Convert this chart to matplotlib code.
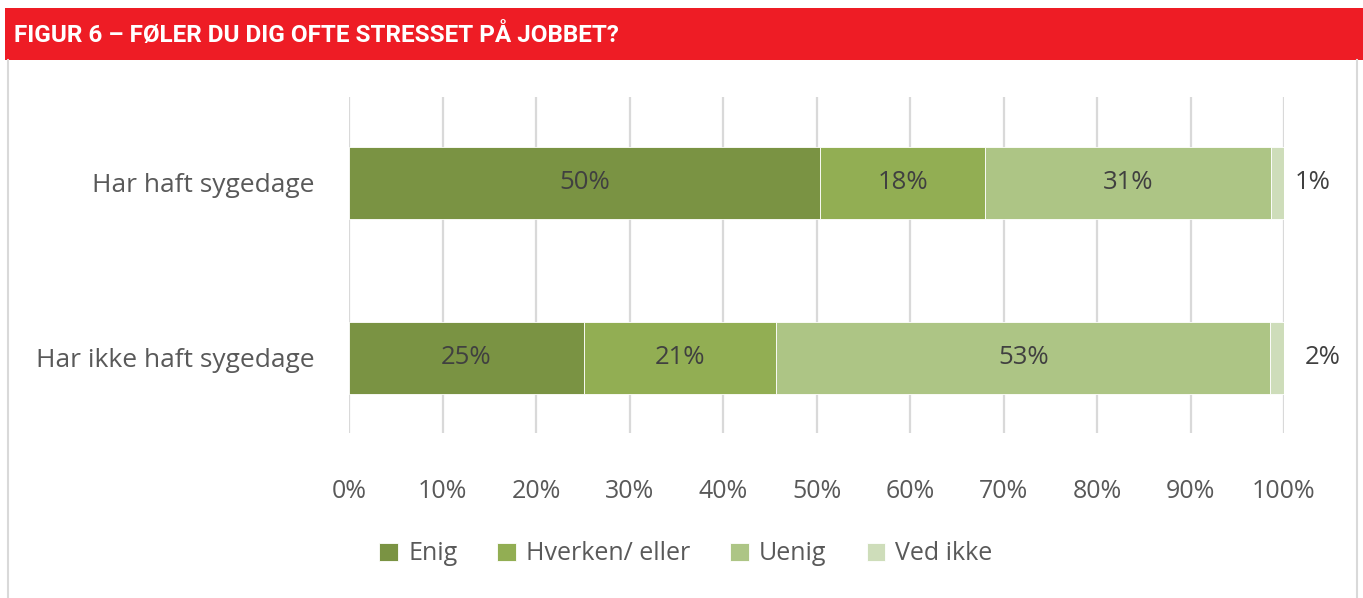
import matplotlib
matplotlib.use('Agg')
import matplotlib.pyplot as plt
from matplotlib.patches import Rectangle
from matplotlib.lines import Line2D

# --- data ---
groups = ['Har haft sygedage', 'Har ikke haft sygedage']
answers = ['Enig', 'Hverken/ eller', 'Uenig', 'Ved ikke']
enig = [50.4, 25.1]
hverken = [17.6, 20.6]
uenig = [30.6, 52.8]
ved_ikke = [1.4, 1.5]
ticks = [0, 10, 20, 30, 40, 50, 60, 70, 80, 90, 100]

colors = ['#7A9343', '#92AE53', '#ADC585', '#CEDDBA']
text_col = '#404040'
label_col = '#595959'
grid_col = '#D9D9D9'

plt.rcParams['font.family'] = ['Open Sans', 'DejaVu Sans']
fs = 18

fig = plt.figure(figsize=(13.63, 5.98), dpi=100)

# red title banner + grey frame
fig.patches.append(Rectangle((5 / 1363, 1 - 60 / 598), 1, 52 / 598, transform=fig.transFigure,
                             facecolor='#EE1C25', edgecolor='none', zorder=0))
fig.lines.append(Line2D([8 / 1363, 8 / 1363], [0, 1 - 60 / 598], transform=fig.transFigure,
                        color=grid_col, lw=1.5))
fig.lines.append(Line2D([1357 / 1363, 1357 / 1363], [0, 1 - 60 / 598], transform=fig.transFigure,
                        color=grid_col, lw=1.5))
fig.text(14 / 1363, 1 - 35 / 598, 'FIGUR 6 – FØLER DU DIG OFTE STRESSET PÅ JOBBET?',
         color='white', fontsize=17.5, fontweight='bold',
         family=['Roboto', 'DejaVu Sans'], va='center', ha='left')

ax = fig.add_axes([349 / 1363, 1 - 433 / 598, (1284 - 349) / 1363, (433 - 97) / 598])

series = [enig, hverken, uenig, ved_ikke]
ypos = list(range(len(groups)))
left = [0] * len(groups)
for i, (vals, name) in enumerate(zip(series, answers)):
    bars = ax.barh(ypos, vals, left=left, height=0.41, color=colors[i],
                   edgecolor='white', linewidth=0.6, label=name, zorder=2)
    for j, (b, v) in enumerate(zip(bars, vals)):
        if name == 'Ved ikke':
            x = 103.1 + j
        else:
            x = left[j] + v / 2
        ax.text(x, ypos[j], f'{v:.0f}%', ha='center', va='center',
                color=text_col, fontsize=fs + 0.5, zorder=3)
    left = [l + v for l, v in zip(left, vals)]

ax.set_xlim(0, 100)
ax.set_ylim(1.43, -0.49)
ax.set_xticks(ticks)
ax.set_xticklabels([f'{t}%' for t in ticks])
ax.set_yticks(ypos)
ax.set_yticklabels(groups)
ax.tick_params(axis='x', length=0, pad=33, labelsize=fs, labelcolor=label_col)
ax.tick_params(axis='y', length=0, pad=25, labelsize=fs + 1, labelcolor=label_col)
ax.grid(axis='x', color=grid_col, linewidth=1.6, zorder=0)
ax.set_axisbelow(True)
for s in ax.spines.values():
    s.set_visible(False)

leg = fig.legend(loc='center', bbox_to_anchor=(686 / 1363, 1 - 554 / 598), ncol=4,
                 frameon=False, fontsize=fs, handlelength=0.75, handleheight=0.75,
                 handletextpad=0.4, columnspacing=1.6, labelcolor=label_col)

fig.savefig('out.png', dpi=100)
